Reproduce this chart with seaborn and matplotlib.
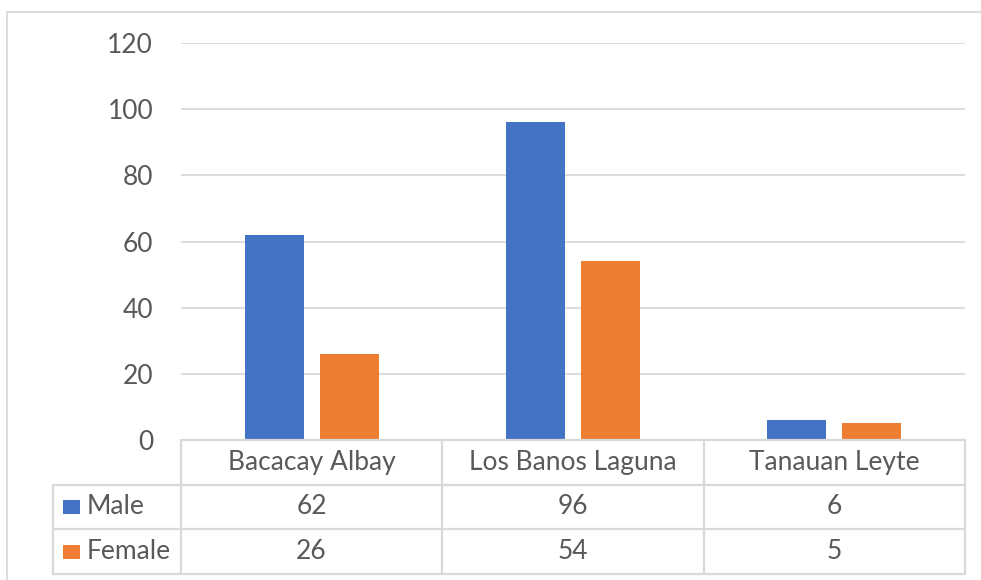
import matplotlib
matplotlib.use("Agg")
import matplotlib.pyplot as plt
from matplotlib.lines import Line2D
from matplotlib.patches import Rectangle
import pandas as pd
import seaborn as sns

# Survey respondents by site and sex
sites = ["Bacacay Albay", "Los Banos Laguna", "Tanauan Leyte"]
male = [62, 96, 6]
female = [26, 54, 5]
series = ["Male", "Female"]
colors = ["#4472C4", "#ED7D31"]
y_ticks = [0, 20, 40, 60, 80, 100, 120]

df = pd.DataFrame({
    "site": sites * 2,
    "count": male + female,
    "sex": ["Male"] * len(sites) + ["Female"] * len(sites),
})

sns.set_theme(style="white")
plt.rcParams["font.family"] = ["Lato", "DejaVu Sans"]

W, H = 981, 580
fig = plt.figure(figsize=(W / 100, H / 100), dpi=100)
fig.patch.set_facecolor("white")

TXT = "#595959"
GRID = "#D9D9D9"

# pixel-space helpers (origin top-left)
def fx(px):
    return px / W

def fy(py):
    return 1 - py / H

x0, x1 = 181, 965
y_top, y_base = 43, 440
ax = fig.add_axes([fx(x0), fy(y_base), fx(x1) - fx(x0), fy(y_top) - fy(y_base)])

sns.barplot(data=df, x="site", y="count", hue="sex", hue_order=series,
            palette=colors, width=0.575, gap=0.213, saturation=1,
            legend=False, ax=ax, edgecolor="none")

fs = 19
ax.set_xlim(-0.5, len(sites) - 0.5)
ax.set_ylim(0, 120)
ax.set_yticks(y_ticks)
ax.set_yticklabels([str(t) for t in y_ticks], fontsize=fs, color=TXT)
ax.tick_params(axis="y", length=0, pad=20)
ax.set_xticks([])
ax.set_xlabel("")
ax.set_ylabel("")
ax.yaxis.grid(True, color=GRID, linewidth=1.3)
ax.set_axisbelow(True)
for s in ax.spines.values():
    s.set_visible(False)

# outer chart border
fig.add_artist(Rectangle((fx(7), fy(600)), fx(1000) - fx(7), fy(12) - fy(600),
                         transform=fig.transFigure, fill=False,
                         edgecolor=GRID, linewidth=1.3))

# data table below the plot
row_y = [440, 485, 529, 574]
col_x = [181, 442, 704, 965]
legend_left = 53

def hline(y, xa, xb):
    fig.add_artist(Line2D([fx(xa), fx(xb)], [fy(y), fy(y)],
                          transform=fig.transFigure, color=GRID, linewidth=1.6))

def vline(x, ya, yb):
    fig.add_artist(Line2D([fx(x), fx(x)], [fy(ya), fy(yb)],
                          transform=fig.transFigure, color=GRID, linewidth=1.6))

hline(row_y[0], col_x[0], col_x[-1])
for y in row_y[1:]:
    hline(y, legend_left, col_x[-1])
for x in col_x:
    vline(x, row_y[0], row_y[-1])
vline(legend_left, row_y[1], row_y[-1])

for i, name in enumerate(sites):
    cx = (col_x[i] + col_x[i + 1]) / 2
    fig.text(fx(cx), fy((row_y[0] + row_y[1]) / 2), name, ha="center",
             va="center", fontsize=fs, color=TXT)

for r, (label, vals, c) in enumerate(zip(series, [male, female], colors)):
    cy = (row_y[r + 1] + row_y[r + 2]) / 2
    fig.add_artist(Rectangle((fx(63), fy(cy + 7)), fx(80) - fx(63), fy(cy - 7) - fy(cy + 7),
                             transform=fig.transFigure, facecolor=c, edgecolor="none"))
    fig.text(fx(87), fy(cy), label, ha="left", va="center", fontsize=fs, color=TXT)
    for i, v in enumerate(vals):
        cx = (col_x[i] + col_x[i + 1]) / 2
        fig.text(fx(cx), fy(cy), str(v), ha="center", va="center",
                 fontsize=fs, color=TXT)

fig.savefig("out.png", dpi=100, facecolor="white")
